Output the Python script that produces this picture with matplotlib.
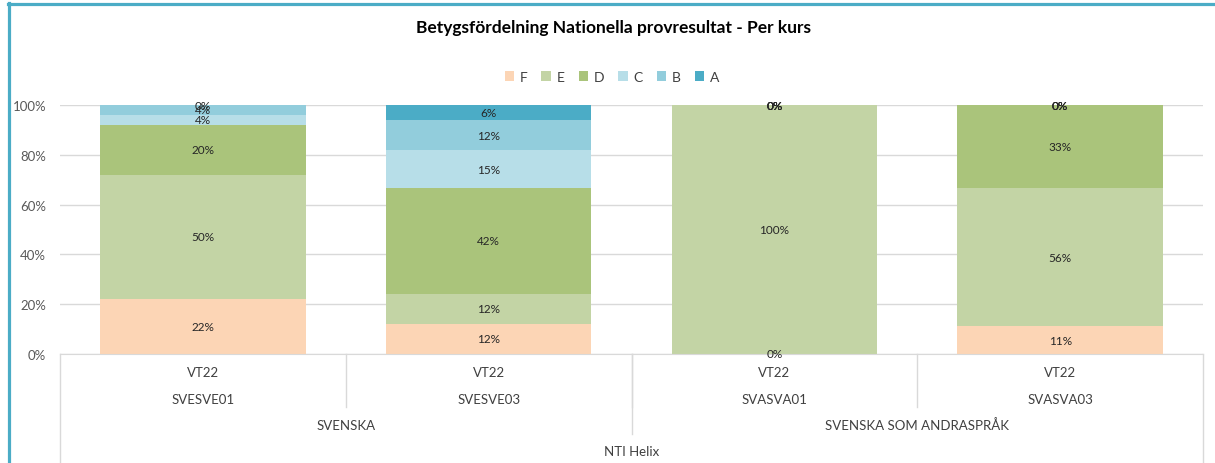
import matplotlib.pyplot as plt
import matplotlib.transforms as mtransforms
from matplotlib.patches import Patch
from matplotlib.lines import Line2D
import numpy as np

# ---- data (percent per grade, per course) ----
courses = ["SVESVE01", "SVESVE03", "SVASVA01", "SVASVA03"]
terms = ["VT22", "VT22", "VT22", "VT22"]
groups = ["SVENSKA", "SVENSKA SOM ANDRASPRÅK"]
group_sizes = [2, 2]
school = "NTI Helix"
grades = ["F", "E", "D", "C", "B", "A"]

F = [22.0, 12.1, 0.0, 11.1]
E = [50.0, 12.1, 100.0, 55.6]
D = [20.0, 42.4, 0.0, 33.3]
C = [4.0, 15.2, 0.0, 0.0]
B = [4.0, 12.1, 0.0, 0.0]
A = [0.0, 6.1, 0.0, 0.0]

colors = ["#FCD5B5", "#C3D4A5", "#AAC47B", "#B7DEE8", "#92CDDC", "#4BACC6"]

W, H = 1215, 464
fig = plt.figure(figsize=(W / 100, H / 100), dpi=100)
plt.rcParams['font.family'] = ['Lato', 'DejaVu Sans']

# plot area in pixels
x0, x1, y_top, y_bot = 60, 1203, 106, 355
ax = fig.add_axes([x0 / W, 1 - y_bot / H, (x1 - x0) / W, (y_bot - y_top) / H])

x = np.arange(len(courses))
bottom = np.zeros(len(courses))
for name, vals, col in zip(grades, [F, E, D, C, B, A], colors):
    vals = np.array(vals)
    ax.bar(x, vals, 0.72, bottom=bottom, color=col, label=name, zorder=2)
    for xi, b, v in zip(x, bottom, vals):
        ax.text(xi, b + v / 2, f"{v:.0f}%", ha="center", va="center",
                fontsize=8.5, color="#262626", zorder=3)
    bottom += vals

ax.set_xlim(-0.5, len(courses) - 0.5)
ax.set_ylim(0, 100)
ax.set_yticks(range(0, 101, 20))
ax.set_yticklabels([f"{v}%" for v in range(0, 101, 20)], fontsize=9.5, color="#595959")
ax.set_xticks([])
ax.tick_params(axis="y", length=0, pad=10)
ax.grid(axis="y", color="#D9D9D9", lw=1, zorder=0)
for s in ["top", "right", "left"]:
    ax.spines[s].set_visible(False)
ax.spines["bottom"].set_color("#D9D9D9")

# ---- hierarchical category axis ----
tr = mtransforms.blended_transform_factory(ax.transData, fig.transFigure)
fy = lambda py: 1 - py / H
line_kw = dict(color="#D9D9D9", lw=1, transform=tr, clip_on=False)
txt_kw = dict(transform=tr, ha="center", va="center", fontsize=9.5, color="#404040")

for xi, t, c in zip(x, terms, courses):
    ax.text(xi, fy(373), t, **txt_kw)
    ax.text(xi, fy(400), c, **txt_kw)

# dividers between courses
for xi in x[:-1]:
    ax.add_line(Line2D([xi + 0.5, xi + 0.5], [fy(355), fy(408)], **line_kw))

start = 0
for g, n in zip(groups, group_sizes):
    mid = start + (n - 1) / 2
    ax.text(mid, fy(426), g, **txt_kw)
    end = start + n - 0.5
    if end < len(courses) - 0.5:
        ax.add_line(Line2D([end, end], [fy(355), fy(435)], **line_kw))
    start += n

ax.text((len(courses) - 1) / 2, fy(452), school, **txt_kw)
ax.add_line(Line2D([-0.5, -0.5], [fy(355), 0], **line_kw))
ax.add_line(Line2D([len(courses) - 0.5] * 2, [fy(355), 0], **line_kw))

# ---- title and legend ----
fig.text(614 / W, fy(28), "Betygsfördelning Nationella provresultat - Per kurs",
         ha="center", va="center", fontsize=12.5, fontweight="bold", color="black")
handles = [Patch(facecolor=c, label=g) for g, c in zip(grades, colors)]
fig.legend(handles=handles, loc="center", bbox_to_anchor=(612 / W, fy(78)), ncol=6,
           frameon=False, fontsize=10, handlelength=0.7, handleheight=0.7,
           handletextpad=0.4, columnspacing=1.0, labelcolor="#404040")

# ---- teal frame ----
fig.add_artist(Line2D([8 / W, 1], [fy(5), fy(5)], color="#4BACC6", lw=2.3, transform=fig.transFigure))
fig.add_artist(Line2D([9 / W, 9 / W], [fy(4), 0], color="#4BACC6", lw=2.3, transform=fig.transFigure))

fig.savefig("out.png", dpi=100)
